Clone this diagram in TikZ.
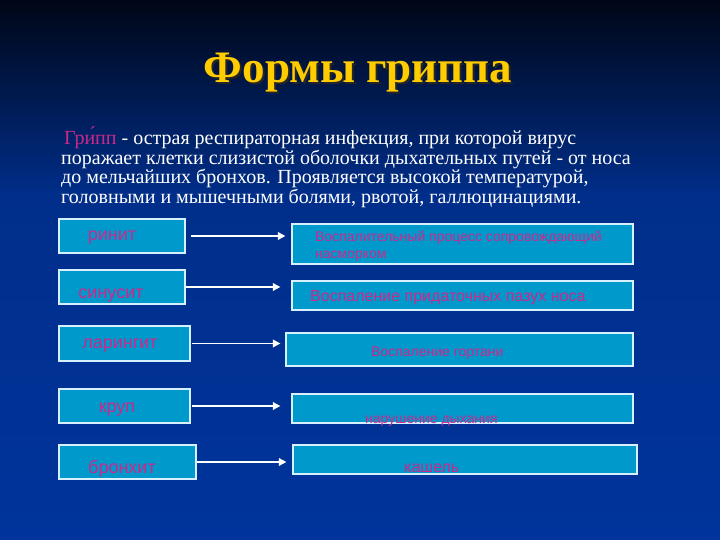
\documentclass[tikz,border=0pt]{standalone}
\usepackage{fontspec}
\setmainfont{Liberation Serif}
\setsansfont{Liberation Sans}
\usepackage{tikz}
\usetikzlibrary{fit}
\usetikzlibrary{arrows.meta}
\definecolor{bgtop}{RGB}{0,6,22}
\definecolor{bgmid}{RGB}{0,46,138}
\definecolor{bgbot}{RGB}{0,52,156}
\definecolor{boxfill}{RGB}{0,153,204}
\definecolor{boxline}{RGB}{215,240,255}
\definecolor{pinktext}{RGB}{204,40,140}
\definecolor{titlegold}{RGB}{255,204,0}

\begin{document}
\begin{tikzpicture}[x=1bp, y=-1bp,
	box/.style={draw=boxline, line width=1.2bp, fill=boxfill, inner sep=0pt},
	ltext/.style={anchor=base, text=pinktext, font=\sffamily\fontsize{18bp}{18bp}\selectfont, inner sep=0pt},
	rtext/.style={anchor=base west, text=pinktext, font=\sffamily\fontsize{14bp}{17bp}\selectfont, inner sep=0pt, align=left},
	arr/.style={draw=white, line width=1.8bp, -{Triangle[length=7.5bp, width=7.5bp]}}]
	\useasboundingbox (0,0) rectangle (720,540);
	\shade[top color=bgtop, bottom color=bgmid] (0,0) rectangle (720,195);	% background
	\shade[top color=bgmid, bottom color=bgbot] (0,195) rectangle (720,540);

	\node[anchor=base, text=black!85, font=\bfseries\fontsize{45bp}{45bp}\selectfont] at (360,85) {Формы гриппа};
	\node[anchor=base, text=titlegold, font=\bfseries\fontsize{45bp}{45bp}\selectfont] (title) at (358,83) {Формы гриппа};

	\node[anchor=base west, text=white, align=left, inner sep=0pt,
		font=\fontsize{20bp}{19.5bp}\selectfont] (intro) at (61,203.5)
		{\hspace*{3bp}\textcolor{pinktext}{Гри́пп} - острая респираторная инфекция, при которой вирус\\
		поражает клетки слизистой оболочки дыхательных путей - от носа\\
		до мельчайших бронхов. Проявляется высокой температурой,\\
		головными и мышечными болями, рвотой, галлюцинациями.};

	\node[box, fit={(59,219) (185,253)}] (l1) {};	% forms
	\node[box, fit={(59,270) (185,304)}] (l2) {};
	\node[box, fit={(59,326) (190,361)}] (l3) {};
	\node[box, fit={(59,389) (190,423)}] (l4) {};
	\node[box, fit={(59,445) (196,479)}] (l5) {};
	\node[ltext] (t1) at (112,241) {ринит};
	\node[ltext] (t2) at (111,298) {синусит};
	\node[ltext] (t3) at (120,348) {ларингит};
	\node[ltext] (t4) at (117,412) {круп};
	\node[ltext] (t5) at (122,473) {бронхит};

	\node[box, fit={(292,224) (633,264)}] (r1) {};	% descriptions
	\node[box, fit={(292,281) (633,310)}] (r2) {};
	\node[box, fit={(286,333) (633,366)}] (r3) {};
	\node[box, fit={(292,394) (633,423)}] (r4) {};
	\node[box, fit={(293,445) (637,474)}] (r5) {};
	\node[rtext] (s1) at (315,259) {Воспалительный процесс сопровождающий\\насморком};
	\node[rtext, font=\sffamily\fontsize{16bp}{17bp}\selectfont] (s2) at (310,301) {Воспаление придаточных пазух носа};
	\node[rtext] (s3) at (371,356) {Воспаление гортани};
	\node[rtext] (s4) at (365,423) {нарушение дыхания};
	\node[rtext, font=\sffamily\fontsize{16bp}{17bp}\selectfont] (s5) at (404,472) {кашель};

	\draw[arr, shorten <=5bp, shorten >=6bp] (l1.east) -- (l1.east -| r1.west);	% arrows
	\draw[arr, shorten >=11bp] (l2.east) -- (l2.east -| r2.west);
	\draw[arr, shorten <=1bp, shorten >=5bp] (l3.east) -- (l3.east -| r3.west);
	\draw[arr, shorten <=1bp, shorten >=11bp] (l4.east) -- (l4.east -| r4.west);
	\draw[arr, shorten >=6bp] (l5.east) -- (l5.east -| r5.west);
\end{tikzpicture}
\end{document}
